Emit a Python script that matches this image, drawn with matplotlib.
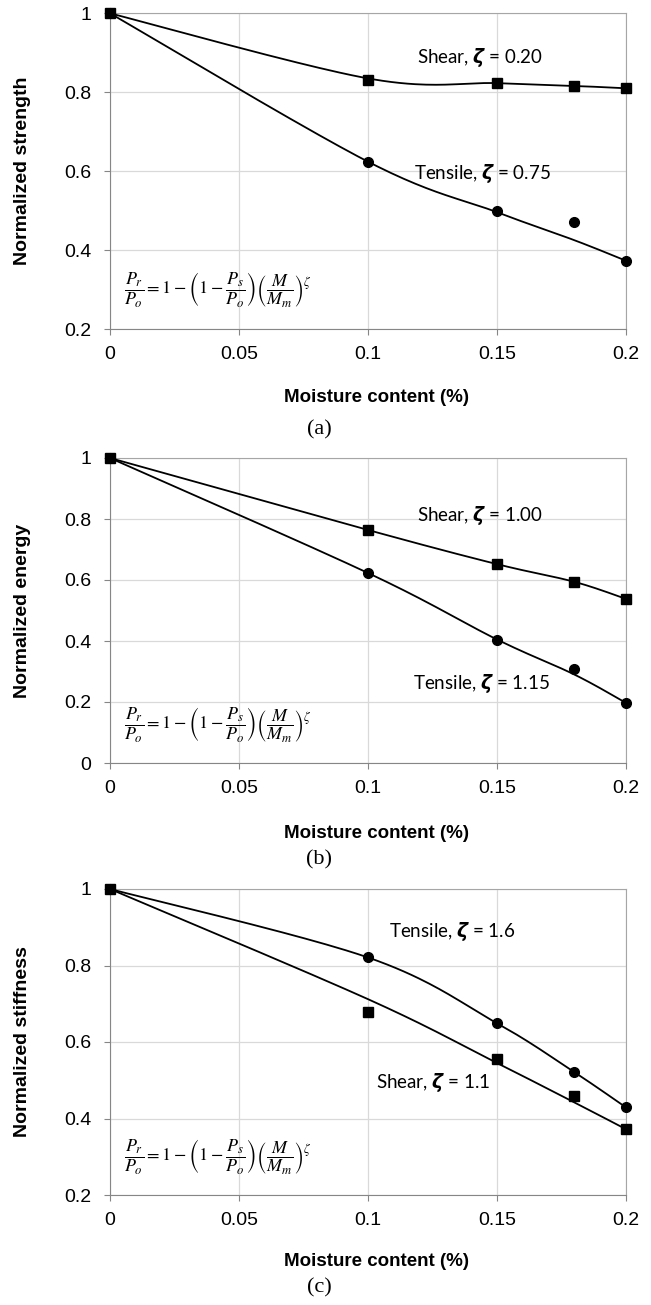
import numpy as np
import matplotlib.pyplot as plt
from matplotlib.ticker import FormatStrFormatter

# moisture content values (x) shared by all three panels
moisture = [0, 0.1, 0.15, 0.18, 0.2]

# (a) normalized strength
strength_shear = [1.0, 0.831, 0.823, 0.816, 0.810]
strength_tensile = [1.0, 0.624, 0.498, 0.471, 0.373]
strength_shear_fit = [1.0, 0.835, 0.823, 0.816, 0.810]
strength_tensile_fit = [1.0, 0.624, 0.496, 0.425, 0.373]

# (b) normalized energy
energy_shear = [1.0, 0.764, 0.652, 0.594, 0.538]
energy_tensile = [1.0, 0.623, 0.403, 0.307, 0.197]
energy_shear_fit = [1.0, 0.764, 0.652, 0.594, 0.538]
energy_tensile_fit = [1.0, 0.623, 0.405, 0.290, 0.197]

# (c) normalized stiffness
stiffness_tensile = [1.0, 0.821, 0.649, 0.521, 0.429]
stiffness_shear = [1.0, 0.679, 0.555, 0.459, 0.372]
stiffness_tensile_fit = [1.0, 0.821, 0.649, 0.521, 0.429]
stiffness_shear_fit = [1.0, 0.712, 0.545, 0.442, 0.372]

W, H = 651, 1305
FORMULA = (r'$\dfrac{P_r}{P_o}=1-\left(1-\dfrac{P_s}{P_o}\right)'
           r'\left(\dfrac{M}{M_m}\right)^{\zeta}$')


def smooth(xs, ys, n=40):
    # Excel-like smoothed line: cubic Bezier through each point
    pts = np.column_stack([xs, ys]).astype(float)
    out = [pts[0]]
    t = np.linspace(0, 1, n)[1:, None]
    for i in range(len(pts) - 1):
        p0 = pts[i - 1] if i > 0 else pts[i]
        p1, p2 = pts[i], pts[i + 1]
        p3 = pts[i + 2] if i + 2 < len(pts) else pts[i + 1]
        c1 = p1 + (p2 - p0) / 6
        c2 = p2 - (p3 - p1) / 6
        seg = (1 - t) ** 3 * p1 + 3 * (1 - t) ** 2 * t * c1 + 3 * (1 - t) * t ** 2 * c2 + t ** 3 * p2
        out.extend(seg)
    return np.array(out)


def panel(top, bottom, ylim, yticks, ylabel, circles, squares, circ_fit, sq_fit, notes, tag, xlab_y, tag_y):
    ax = fig.add_axes([110 / W, 1 - bottom / H, 516 / W, (bottom - top) / H])
    for fit in (circ_fit, sq_fit):
        c = smooth(moisture, fit)
        ax.plot(c[:, 0], c[:, 1], color='black', lw=1.3, zorder=3)
    ax.plot(moisture, circles, 'o', color='black', ms=7, zorder=4, clip_on=False)
    ax.plot(moisture, squares, 's', color='black', ms=7.5, zorder=5, clip_on=False)

    ax.set_xlim(0, 0.2)
    ax.set_ylim(*ylim)
    ax.set_xticks([0, 0.05, 0.1, 0.15, 0.2])
    ax.set_xticklabels(['0', '0.05', '0.1', '0.15', '0.2'])
    ax.set_yticks(yticks)
    ax.yaxis.set_major_formatter(FormatStrFormatter('%g'))
    ax.grid(True, color='#d9d9d9', lw=0.9)
    ax.set_axisbelow(True)
    for s in ('left', 'bottom'):
        ax.spines[s].set_color('#868686')
    for s in ('top', 'right'):
        ax.spines[s].set_color('#a6a6a6')
    ax.tick_params(axis='both', direction='out', length=4.5, color='#868686',
                   labelsize=14, labelcolor='black')
    ax.tick_params(axis='y', pad=9)
    ax.tick_params(axis='x', pad=7.5)
    for lbl in ax.get_xticklabels() + ax.get_yticklabels():
        lbl.set_family('Liberation Sans')

    ax.set_ylabel(ylabel, fontsize=14, fontweight='bold', family='Liberation Sans')
    ax.yaxis.set_label_coords(-79 / 516, 0.5)

    for x, y, txt in notes:
        ax.text(x, y, txt, fontsize=13.5, family='Lato', va='center', ha='left', zorder=6)
    ax.text(0.028, 0.125, FORMULA, transform=ax.transAxes, fontsize=13,
            math_fontfamily='stix', va='center', ha='left')

    fig.text(376 / W, 1 - xlab_y / H, 'Moisture content (%)', fontsize=13.5,
             fontweight='bold', family='Liberation Sans', ha='center', va='center')
    fig.text(319 / W, 1 - tag_y / H, tag, fontsize=16, family='Liberation Serif',
             ha='center', va='center')
    return ax


plt.rcParams['mathtext.fontset'] = 'dejavusans'
fig = plt.figure(figsize=(W / 100, H / 100), dpi=100)

panel(13.3, 329, (0.2, 1.0), [0.2, 0.4, 0.6, 0.8, 1.0], 'Normalized strength',
      strength_tensile, strength_shear, strength_tensile_fit, strength_shear_fit,
      [(0.119, 0.889, r'Shear, $\boldsymbol{\zeta}$ = 0.20'),
       (0.118, 0.593, r'Tensile, $\boldsymbol{\zeta}$ = 0.75')],
      '(a)', 398, 430)

panel(458, 763, (0.0, 1.0), [0, 0.2, 0.4, 0.6, 0.8, 1.0], 'Normalized energy',
      energy_tensile, energy_shear, energy_tensile_fit, energy_shear_fit,
      [(0.119, 0.81, r'Shear, $\boldsymbol{\zeta}$ = 1.00'),
       (0.1175, 0.262, r'Tensile, $\boldsymbol{\zeta}$ = 1.15')],
      '(b)', 833, 860)

panel(889, 1195, (0.2, 1.0), [0.2, 0.4, 0.6, 0.8, 1.0], 'Normalized stiffness',
      stiffness_tensile, stiffness_shear, stiffness_tensile_fit, stiffness_shear_fit,
      [(0.108, 0.888, r'Tensile, $\boldsymbol{\zeta}$ = 1.6'),
       (0.103, 0.495, r'Shear, $\boldsymbol{\zeta}$ = 1.1')],
      '(c)', 1262, 1288)

fig.savefig('out.png', dpi=100)
